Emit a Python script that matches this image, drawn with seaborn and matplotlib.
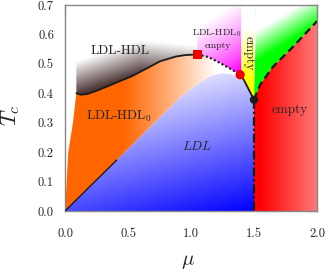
import numpy as np
import matplotlib.pyplot as plt
from matplotlib.patches import Polygon
import seaborn as sns

# --- data ------------------------------------------------------------------
# first-order line LDL / LDL-HDL (solid), its metastable part (dotted)
mu_coex = [0.09, 0.13, 0.18, 0.26, 0.40, 0.53, 0.66, 0.75, 0.88, 0.96, 1.05]
T_coex = [0.400, 0.395, 0.398, 0.410, 0.435, 0.458, 0.487, 0.508, 0.525, 0.530, 0.532]
mu_meta = [1.05, 1.14, 1.23, 1.31, 1.39]
T_meta = [0.532, 0.523, 0.503, 0.484, 0.463]
# last piece down to the tricritical point
mu_end = [1.39, 1.42, 1.45, 1.48, 1.50]
T_end = [0.463, 0.445, 0.420, 0.395, 0.378]
# dashed line (right) and dash-dotted line (vertical)
mu_dash = [1.50, 1.55, 1.65, 1.81, 2.00]
T_dash = [0.378, 0.430, 0.490, 0.558, 0.645]
mu_vert = [1.50, 1.50]
T_vert = [0.378, 0.0]
# short straight line from the origin
mu_diag = [0.0, 0.41]
T_diag = [0.0, 0.173]
# upper edge of the LDL region and left edge of LDL-HDL0 region
mu_ldl_top = [0.0, 0.91, 1.00, 1.10, 1.17, 1.25, 1.32, 1.39]
T_ldl_top = [0.0, 0.385, 0.415, 0.445, 0.462, 0.469, 0.465, 0.455]
mu_left = [0.0, 0.026, 0.063, 0.09]
T_left = [0.0, 0.20, 0.30, 0.40]

# special points
pt_mu = [1.05, 1.39, 1.50]
pt_T = [0.532, 0.463, 0.378]

xticks = [0.0, 0.5, 1.0, 1.5, 2.0]
yticks = [0.0, 0.1, 0.2, 0.3, 0.4, 0.5, 0.6, 0.7]

sns.set_theme(style="white")
plt.rcParams["font.family"] = ["cmr10", "DejaVu Serif"]
plt.rcParams["mathtext.fontset"] = "cm"
plt.rcParams["axes.unicode_minus"] = False
plt.rcParams["axes.formatter.use_mathtext"] = True

fig = plt.figure(figsize=(3.27, 2.72), dpi=100)
ax = fig.add_axes([0.1988, 0.2243, 0.7706, 0.7573])

W, H = 500, 350
X, Y = np.meshgrid(np.linspace(0, 2, W), np.linspace(0, 0.7, H))
XN, YN = X / 2.0, Y / 0.7


def linear_t(p0, p1):
    x0, y0 = p0[0] / 2.0, p0[1] / 0.7
    dx, dy = p1[0] / 2.0 - x0, p1[1] / 0.7 - y0
    t = ((XN - x0) * dx + (YN - y0) * dy) / (dx * dx + dy * dy)
    return np.clip(t, 0, 1)


def paint(t, c0, c1, mus, Ts):
    c0, c1 = np.array(c0), np.array(c1)
    rgb = c0 + t[..., None] * (c1 - c0)
    im = ax.imshow(rgb, extent=[0, 2, 0, 0.7], origin="lower", aspect="auto",
                   interpolation="bilinear", zorder=1)
    poly = Polygon(np.column_stack([mus, Ts]), closed=True,
                   transform=ax.transData, fc="none", ec="none")
    im.set_clip_path(poly)


white = (1, 1, 1)

# LDL (blue)
paint(linear_t((1.5, 0.0), (1.05, 0.5)), (0, 0, 1), (0.96, 0.96, 1.0),
      mu_ldl_top + mu_end[1:] + [1.5],
      T_ldl_top + T_end[1:] + [0.0])

# LDL-HDL0 (orange)
paint(linear_t((0.45, 0.3), (1.2, 0.3)) ** 1.1, (1, 0.4, 0), white,
      mu_left + mu_coex[1:] + mu_meta[1:] + mu_ldl_top[::-1],
      T_left + T_coex[1:] + T_meta[1:] + T_ldl_top[::-1])

# LDL-HDL (dark grey), shading follows a smooth line
base = 0.395 + 0.14 * np.clip(X - 0.09, 0, None)
t_grey = (Y - base) / 0.115 + np.clip(X - 0.6, 0, None) * 1.6
t_grey = np.clip(t_grey, 0, 1)
paint(t_grey, (0.30, 0.21, 0.21), white,
      mu_coex + [1.05, 0.09], T_coex + [0.70, 0.70])

# metastable part (magenta)
paint(linear_t((1.38, 0.48), (1.05, 0.625)) ** 0.75, (1, 0, 1), white,
      mu_meta + [1.40, 1.40, 1.05], T_meta + [0.463, 0.70, 0.70])

# yellow strip
paint(linear_t((1.45, 0.45), (1.45, 0.62)), (1, 1, 0), white,
      mu_end + [1.51, 1.40, 1.40], T_end + [0.70, 0.70, 0.463])

# green wedge
paint(linear_t((1.69, 0.553), (1.55, 0.62)), (0, 1, 0), white,
      [1.5, 1.51, 1.52, 2.0] + mu_dash[::-1],
      [0.378, 0.55, 0.70, 0.70] + T_dash[::-1])

# empty (red)
paint(linear_t((1.55, 0.2), (2.0, 0.2)), (1, 0, 0), (1, 0.47, 0.47),
      [1.5] + mu_dash + [2.0], [0.0] + T_dash + [0.0])

# lines
sns.lineplot(x=mu_coex, y=T_coex, sort=False, estimator=None, color="k",
             lw=1.3, ax=ax, zorder=3)
sns.lineplot(x=mu_meta, y=T_meta, sort=False, estimator=None, color="k",
             lw=1.5, linestyle=(0, (1, 1.1)), ax=ax, zorder=3)
sns.lineplot(x=mu_end, y=T_end, sort=False, estimator=None, color="k",
             lw=1.3, ax=ax, zorder=3)
sns.lineplot(x=mu_dash, y=T_dash, sort=False, estimator=None, color="k",
             lw=1.6, linestyle=(0, (3.4, 2.0)), ax=ax, zorder=3)
sns.lineplot(x=mu_vert, y=T_vert, sort=False, estimator=None, color="k",
             lw=1.6, linestyle=(0, (4, 1.3, 1, 1.3)), ax=ax, zorder=3)
sns.lineplot(x=mu_diag, y=T_diag, sort=False, estimator=None, color="k",
             lw=1.0, ax=ax, zorder=3)

# points
sns.scatterplot(x=[pt_mu[0]], y=[pt_T[0]], marker="s", s=42, color="#ee0000",
                edgecolor="none", ax=ax, zorder=4)
sns.scatterplot(x=[pt_mu[1]], y=[pt_T[1]], marker="o", s=44, color="#ee0000",
                edgecolor="none", ax=ax, zorder=4)
sns.scatterplot(x=[pt_mu[2]], y=[pt_T[2]], marker="o", s=36, color="k",
                edgecolor="none", ax=ax, zorder=4)

# labels inside
ax.text(0.44, 0.545, "LDL-HDL", fontsize=9.5, ha="center", va="center", zorder=5)
ax.text(0.43, 0.322, "LDL-HDL$_0$", fontsize=9.5, ha="center", va="center", zorder=5)
ax.text(1.05, 0.218, "$LDL$", fontsize=9.5, ha="center", va="center", zorder=5)
ax.text(1.205, 0.603, "LDL-HDL$_0$", fontsize=7, ha="center", va="center", zorder=5)
ax.text(1.21, 0.562, "empty", fontsize=7, ha="center", va="center", zorder=5)
ax.text(1.455, 0.537, "empty", fontsize=9, rotation=-90, ha="center",
        va="center", zorder=5)
ax.text(1.78, 0.342, "empty", fontsize=9.5, ha="center", va="center", zorder=5)

ax.set_xlim(0, 2)
ax.set_ylim(0, 0.7)
ax.set_xticks(xticks)
ax.set_yticks(yticks)
ax.set_xticklabels([f"{v:.1f}" for v in xticks])
ax.set_yticklabels([f"{v:.1f}" for v in yticks])
ax.tick_params(axis="both", direction="in", length=8, width=0.8,
               color="#333333", top=True, right=True, labelsize=9)
ax.tick_params(axis="x", pad=12)
ax.tick_params(axis="y", pad=8)
for sp in ax.spines.values():
    sp.set_color("#888888")
    sp.set_linewidth(1.0)

ax.set_xlabel(r"$\mu$", fontsize=15)
ax.set_ylabel(r"$T_c$", fontsize=16)
ax.xaxis.set_label_coords(0.487, -0.205)
ax.yaxis.set_label_coords(-0.17, 0.466)

fig.savefig("out.png", dpi=100)
